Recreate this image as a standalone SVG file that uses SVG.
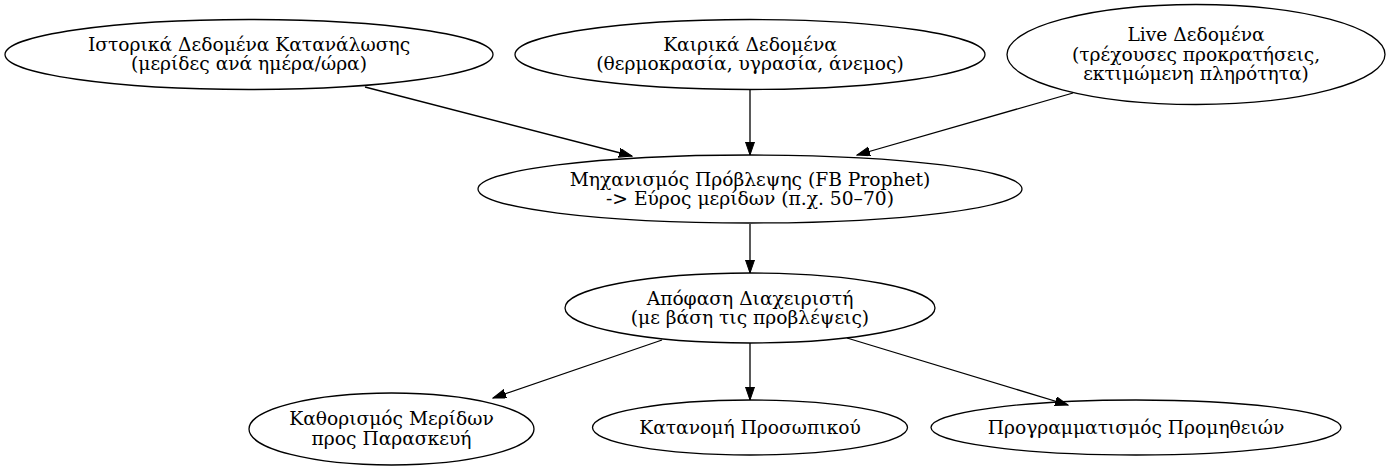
<svg xmlns="http://www.w3.org/2000/svg" width="1394" height="470" viewBox="0 0 1394 470">
  <style>
    .node ellipse { fill: none; stroke: #000; stroke-width: 1.3; }
    .node text { font-family: "DejaVu Serif", "Liberation Serif", serif; font-size: 18.67px; fill: #000; text-anchor: middle; }
    .edges line { stroke: #000; stroke-width: 1.3; marker-end: url(#arrow); }
  </style>
  <defs>
    <marker id="arrow" markerUnits="userSpaceOnUse" markerWidth="14" markerHeight="10" refX="13" refY="4.5" orient="auto">
      <path d="M0,0 L13,4.5 L0,9 Z" fill="#000" stroke="#000" stroke-width="1"/>
    </marker>
  </defs>
  <rect width="1394" height="470" fill="#fff"/>

  <g class="edges">
    <line x1="365" y1="87" x2="632" y2="156"/>
    <line x1="750" y1="90" x2="750" y2="155"/>
    <line x1="1073" y1="93" x2="857" y2="155"/>
    <line x1="750" y1="224" x2="750" y2="273"/>
    <line x1="662" y1="340" x2="493" y2="398"/>
    <line x1="750" y1="343" x2="750" y2="400"/>
    <line x1="847" y1="338" x2="1068" y2="405"/>
  </g>

  <g id="historical" class="node">
    <ellipse cx="249" cy="54.5" rx="244" ry="35"/>
    <text x="249" y="50.5">Ιστορικά Δεδομένα Κατανάλωσης</text>
    <text x="249" y="70">(μερίδες ανά ημέρα/ώρα)</text>
  </g>
  <g id="weather" class="node">
    <ellipse cx="750" cy="54.5" rx="235" ry="35"/>
    <text x="750" y="50.5">Καιρικά Δεδομένα</text>
    <text x="750" y="70">(θερμοκρασία, υγρασία, άνεμος)</text>
  </g>
  <g id="live" class="node">
    <ellipse cx="1196" cy="54.5" rx="189" ry="50"/>
    <text x="1196" y="41">Live Δεδομένα</text>
    <text x="1196" y="60.5">(τρέχουσες προκρατήσεις,</text>
    <text x="1196" y="80">εκτιμώμενη πληρότητα)</text>
  </g>
  <g id="forecast" class="node">
    <ellipse cx="750" cy="189" rx="272" ry="34"/>
    <text x="750" y="185.5">Μηχανισμός Πρόβλεψης (FB Prophet)</text>
    <text x="750" y="205">-&gt; Εύρος μερίδων (π.χ. 50–70)</text>
  </g>
  <g id="decision" class="node">
    <ellipse cx="750" cy="308" rx="185" ry="35"/>
    <text x="750" y="304.5">Απόφαση Διαχειριστή</text>
    <text x="750" y="324">(με βάση τις προβλέψεις)</text>
  </g>
  <g id="portions" class="node">
    <ellipse cx="391.5" cy="429" rx="142.5" ry="36"/>
    <text x="391.5" y="425">Καθορισμός Μερίδων</text>
    <text x="391.5" y="444.5">προς Παρασκευή</text>
  </g>
  <g id="staff" class="node">
    <ellipse cx="750" cy="427.5" rx="157.5" ry="27.5"/>
    <text x="750" y="433.5">Κατανομή Προσωπικού</text>
  </g>
  <g id="supplies" class="node">
    <ellipse cx="1136" cy="427.5" rx="205" ry="27.5"/>
    <text x="1136" y="433.5">Προγραμματισμός Προμηθειών</text>
  </g>
</svg>
